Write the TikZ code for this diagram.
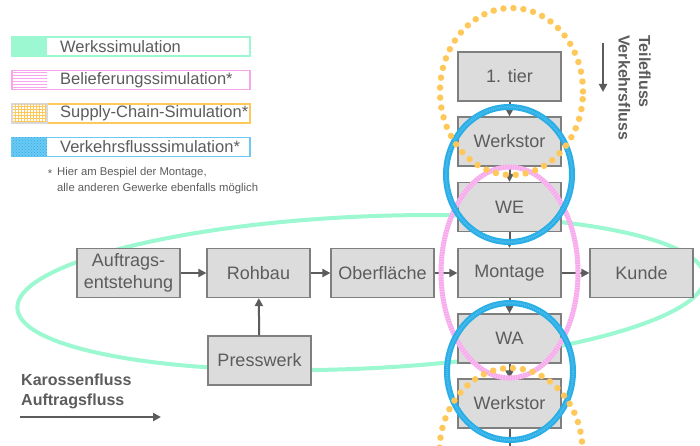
\documentclass[tikz,border=0pt]{standalone}
\usepackage{fontspec}
\setmainfont{Liberation Sans}
\usetikzlibrary{arrows.meta,patterns}
\definecolor{txt}{HTML}{5C5C5C}
\definecolor{boxfill}{HTML}{DCDCDC}
\definecolor{boxline}{HTML}{7F7F7F}
\definecolor{mint}{HTML}{9CF8D0}
\definecolor{pinkc}{HTML}{F7A6EC}
\definecolor{bluec}{HTML}{2AAEE6}
\definecolor{bluel}{HTML}{6CC9F3}
\definecolor{orangec}{HTML}{FFC85A}
\definecolor{swgray}{HTML}{D8D8D8}
\begin{document}
\begin{tikzpicture}[x=1pt,y=1pt,
  blk/.style={draw=boxline,fill=boxfill,line width=1.2pt,minimum width=103pt,minimum height=49pt,inner sep=0pt,text=txt,font=\fontsize{18}{22}\selectfont,align=center},
  flow/.style={draw=txt,line width=2pt,-{Triangle[length=8pt,width=8pt]}},
  legframe/.style={line width=1.3pt,fill=white},
  legtext/.style={anchor=west,inner sep=0pt,text=txt,font=\fontsize{16.5}{20}\selectfont},
  greenring/.style={draw=mint,line width=4pt},
  pinkring/.style={draw=pinkc,line width=5pt},
  pinkstripe/.style={draw=white,line width=5pt,opacity=0.3,dash pattern=on 1pt off 1.5pt},
  bluering/.style={draw=bluec,line width=6pt},
  bluestripe/.style={draw=bluel,line width=2pt,opacity=0.6,dash pattern=on 1pt off 1pt},
  orangering/.style={draw=orangec,line width=6.5pt,line cap=round,dash pattern=on 0pt off 10pt},
  flowlabel/.style={inner sep=0pt,text=txt,font=\bfseries\fontsize{16}{20.5}\selectfont,align=left}
]
\useasboundingbox (0,0) rectangle (700,445);
\clip (0,0) rectangle (700,445);

% Werkssimulation ring (behind boxes)
\draw[greenring, rotate around={2.6:(361,152.4)}] (361,152.4) ellipse [x radius=344pt, y radius=76pt];

% Legend
\draw[legframe,draw=mint] (12,389) rectangle (250,408);
\fill[mint] (12,389) rectangle (47,408);
\node[legtext] (l1) at (60,398.5) {Werkssimulation};

\draw[legframe,draw=pinkc] (12,355.5) rectangle (250,374.5);
\fill[pattern=horizontal lines,pattern color=pinkc] (13,356.5) rectangle (47,373.5);
\node[legtext] (l2) at (60,365) {Belieferungssimulation*};

\draw[legframe,draw=orangec] (12,322) rectangle (250,341);
\draw[draw=swgray,line width=1.3pt,fill=white] (12,322) rectangle (47,341);
\fill[pattern=grid,pattern color=orangec] (13,323) rectangle (46,340);
\node[legtext] (l3) at (60,331.5) {Supply-Chain-Simulation*};

\draw[legframe,draw=bluel] (12,288.5) rectangle (250,307.5);
\fill[bluel] (12,288.5) rectangle (47,307.5);
\fill[pattern=crosshatch dots,pattern color=bluec] (12,288.5) rectangle (47,307.5);
\node[legtext] (l4) at (60,298) {Verkehrsflusssimulation*};

\node[inner sep=0pt,text=txt,font=\fontsize{11.3}{13}\selectfont] (star) at (50,271) {*};
\node[anchor=west,inner sep=0pt,align=left,text=txt,font=\fontsize{11.3}{16}\selectfont] (note) at (57,264) {Hier am Bespiel der Montage,\\alle anderen Gewerke ebenfalls möglich};

% Boxes
\node[blk] (auf) at (128.5,172) {Auftrags-\\entstehung};
\node[blk] (roh) at (258.5,172) {Rohbau};
\node[blk] (obe) at (382.5,172) {Oberfläche};
\node[blk] (mon) at (509.5,172) {Montage};
\node[blk] (kun) at (641.5,172) {Kunde};
\node[blk] (pre) at (259.5,84.5) {Presswerk};
\node[blk] (tie) at (509.5,368.5) {1. tier};
\node[blk] (ws1) at (509.5,303.5) {Werkstor};
\node[blk] (we)  at (509.5,238) {WE};
\node[blk] (wa)  at (509.5,106.5) {WA};
\node[blk] (ws2) at (509.5,41.5) {Werkstor};
\coordinate (out) at (509.5,-14);

% Connectors
\draw[flow] (auf) -- (roh);
\draw[flow] (roh) -- (obe);
\draw[flow] (obe) -- (mon);
\draw[flow] (mon) -- (kun);
\draw[flow] (pre) -- (roh);
\draw[flow] (tie) -- (ws1);
\draw[flow] (ws1) -- (we);
\draw[flow] (we) -- (mon);
\draw[flow] (mon) -- (wa);
\draw[flow] (wa) -- (ws2);
\draw[flow] (ws2) -- (out);

% Belieferungssimulation
\draw[pinkring] (509.5,172.5) ellipse [x radius=68.5pt, y radius=105.5pt];
\draw[pinkstripe] (509.5,172.5) ellipse [x radius=68.5pt, y radius=105.5pt];

% Verkehrsflusssimulation
\draw[bluering] (509,270.5) ellipse [x radius=63pt, y radius=67.5pt];
\draw[bluestripe] (509,270.5) ellipse [x radius=63pt, y radius=67.5pt];
\draw[bluering] (510,73.5) ellipse [x radius=63pt, y radius=68.5pt];
\draw[bluestripe] (510,73.5) ellipse [x radius=63pt, y radius=68.5pt];

% Supply-Chain-Simulation
\draw[orangering] (511.5,353.5) ellipse [x radius=71.5pt, y radius=83.5pt];
\draw[orangering] (511,-6.5) ellipse [x radius=71.5pt, y radius=83.5pt];

% Flow legends
\node[flowlabel,anchor=west] (kaf) at (21,53.5) {Karossenfluss\\Auftragsfluss};
\coordinate (ka) at (20,28);
\coordinate (kb) at (161,28);
\draw[flow] (ka) -- (kb);

\node[flowlabel,rotate=-90,anchor=north west] (tvf) at (651,410) {Teilefluss\\Verkehrsfluss};
\coordinate (ta) at (603,402);
\coordinate (tb) at (603,353);
\draw[flow] (ta) -- (tb);
\end{tikzpicture}
\end{document}
